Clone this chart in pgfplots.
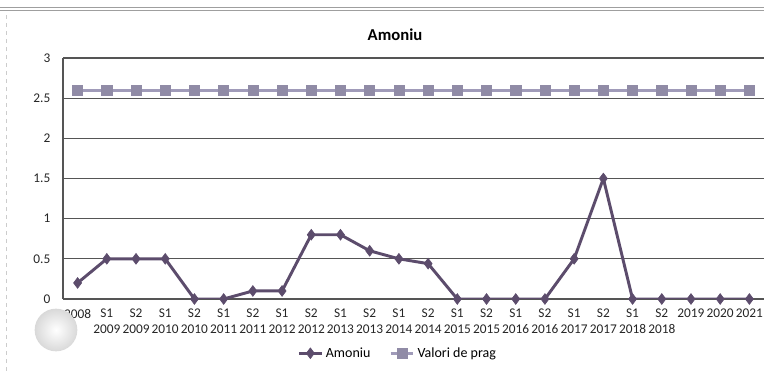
\documentclass[border=0pt]{standalone}
\usepackage{pgfplots}
\pgfplotsset{compat=1.18}
\usepackage{fontspec}
\setmainfont{Carlito}
\usetikzlibrary{shadings}

\definecolor{amoniu}{RGB}{92,76,108}
\definecolor{prag}{RGB}{160,155,185}
\definecolor{gridc}{RGB}{85,85,85}

\pgfplotstableread{
x val
0 0.2
1 0.5
2 0.5
3 0.5
4 0
5 0
6 0.1
7 0.1
8 0.8
9 0.8
10 0.6
11 0.5
12 0.44
13 0
14 0
15 0
16 0
17 0.5
18 1.5
19 0
20 0
21 0
22 0
23 0
}\amoniu

\pgfplotstableread{
x val
0 2.6
1 2.6
2 2.6
3 2.6
4 2.6
5 2.6
6 2.6
7 2.6
8 2.6
9 2.6
10 2.6
11 2.6
12 2.6
13 2.6
14 2.6
15 2.6
16 2.6
17 2.6
18 2.6
19 2.6
20 2.6
21 2.6
22 2.6
23 2.6
}\prag

\begin{document}
\begin{tikzpicture}
\useasboundingbox (0,0) rectangle (573pt,278.25pt);

% page decorations from the scan
\draw[gray!75, line width=0.8pt] (0,272.6pt) -- (573pt,272.6pt);
\draw[gray!75, line width=0.8pt] (0,270.2pt) -- (573pt,270.2pt);
\draw[gray!40, dashed, line width=0.6pt] (5pt,0) -- (5pt,268pt);

\node[font=\fontsize{12.5}{14}\selectfont\bfseries] at (296.25pt,252pt) {Amoniu};

\begin{axis}[
width=525.75pt,
height=180.75pt,
at={(47.25pt,54pt)},
anchor=south west,
scale only axis,
xmin=-0.5, xmax=23.5,
ymin=0, ymax=3,
ytick={0,0.5,1,1.5,2,2.5,3},
yticklabels={0,0.5,1,1.5,2,2.5,3},
xtick={0,...,23},
xticklabels={2008,S1\\2009,S2\\2009,S1\\2010,S2\\2010,S1\\2011,S2\\2011,S1\\2012,S2\\2012,S1\\2013,S2\\2013,S1\\2014,S2\\2014,S1\\2015,S2\\2015,S1\\2016,S2\\2016,S1\\2017,S2\\2017,S1\\2018,S2\\2018,2019,2020,2021},
xticklabel style={align=center, font=\fontsize{10}{11.5}\selectfont, text=black!85},
yticklabel style={font=\fontsize{10}{12}\selectfont, text=black!85},
axis x line*=bottom,
axis y line*=left,
axis line style={gridc, line width=0.8pt, -},
major tick length=0pt,
ymajorgrids,
major grid style={gridc, line width=0.8pt},
x tick label style={yshift=-4pt},
y tick label style={xshift=-6pt},
legend style={at={(0.478,-0.225)}, anchor=center, draw=none, fill=none,
  legend columns=2, font=\fontsize{10.5}{12}\selectfont,
  /tikz/every even column/.append style={column sep=12pt}},
legend cell align=left,
]
\addplot[color=amoniu, line width=2.2pt, mark=diamond*, mark size=4pt,
  mark options={fill=amoniu, line width=0.5pt}] table[x=x, y=val] {\amoniu};
\addlegendentry{Amoniu}
\addplot[color=prag, line width=2.2pt, mark=square*, mark size=3.8pt,
  mark options={fill=prag!90!black, draw=prag!90!black, line width=0.4pt}] table[x=x, y=val] {\prag};
\addlegendentry{Valori de prag}
\end{axis}

% hole-punch artifact of the scan
\shade[inner color=white, outer color=gray!30] (42pt,30.75pt) circle (16pt);
\end{tikzpicture}
\end{document}
